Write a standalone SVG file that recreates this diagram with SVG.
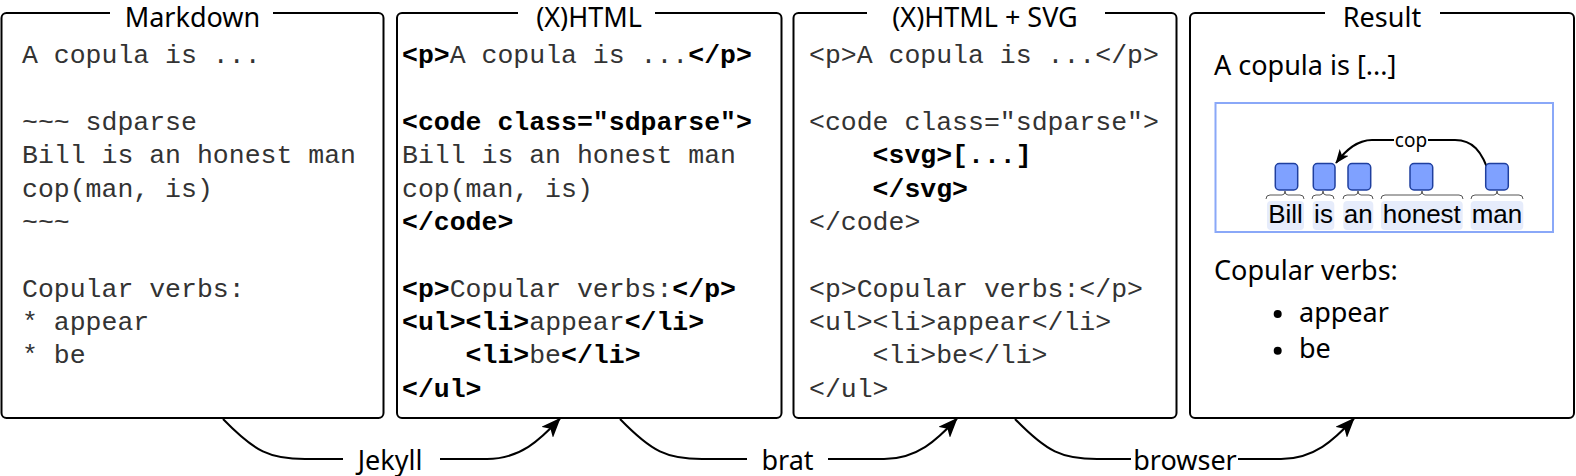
<svg xmlns="http://www.w3.org/2000/svg" width="1576" height="476" viewBox="0 0 1576 476">
<style>
.panel{fill:#fff;stroke:#000;stroke-width:2}
.tbg{fill:#fff}
.title{font-family:"Noto Sans","Open Sans",sans-serif;font-size:27px;fill:#000;text-anchor:middle}
.code{font-family:"Liberation Mono","Courier New",monospace;font-size:26.5px;fill:#333}
.b{font-weight:bold;fill:#000}
.res{font-family:"Noto Sans","Open Sans",sans-serif;font-size:27px;fill:#000}
.tok{fill:#7fa1ff;stroke:#1f3f9e;stroke-width:1.5}
.wbg{fill:#e6ecfb}
.word{font-family:"Liberation Sans",Arial,sans-serif;font-size:26px;fill:#000;text-anchor:middle}
.brace{fill:none;stroke:#555;stroke-width:1}
.conn{fill:none;stroke:#000;stroke-width:2}
.lbl{font-family:"Noto Sans","Open Sans",sans-serif;font-size:27px;fill:#000;text-anchor:middle}
</style>
<defs>
<marker id="arr" viewBox="0 0 10 8" refX="9.5" refY="4" markerWidth="10" markerHeight="8" markerUnits="strokeWidth" orient="auto">
<path d="M0,0 L10,4 L0,8 L2.5,4 z" fill="#000"/>
</marker>
<marker id="arr2" viewBox="0 0 10 8" refX="9.5" refY="4" markerWidth="7" markerHeight="5.6" markerUnits="strokeWidth" orient="auto">
<path d="M0,0 L10,4 L0,8 L2.5,4 z" fill="#000"/>
</marker>
</defs>

<g id="markdown">
<rect class="panel" x="1.5" y="13" width="382" height="405" rx="5"/>
<rect class="tbg" x="110" y="2" width="163" height="22"/>
<text class="title" x="192.5" y="27">Markdown</text>
<text class="code" x="22" y="63.3">A copula is ...</text>
<text class="code" x="22" y="130">~~~ sdparse</text>
<text class="code" x="22" y="163.3">Bill is an honest man</text>
<text class="code" x="22" y="196.6">cop(man, is)</text>
<text class="code" x="22" y="230">~~~</text>
<text class="code" x="22" y="296.6">Copular verbs:</text>
<text class="code" x="22" y="330">* appear</text>
<text class="code" x="22" y="363.3">* be</text>
</g>

<g id="xhtml">
<rect class="panel" x="397" y="13" width="384.5" height="405" rx="5"/>
<rect class="tbg" x="518" y="2" width="137" height="22"/>
<text class="title" x="589" y="27">(X)HTML</text>
<text class="code" x="402" y="63.3"><tspan class="b">&lt;p&gt;</tspan>A copula is ...<tspan class="b">&lt;/p&gt;</tspan></text>
<text class="code b" x="402" y="130">&lt;code class="sdparse"&gt;</text>
<text class="code" x="402" y="163.3">Bill is an honest man</text>
<text class="code" x="402" y="196.6">cop(man, is)</text>
<text class="code b" x="402" y="230">&lt;/code&gt;</text>
<text class="code" x="402" y="296.6"><tspan class="b">&lt;p&gt;</tspan>Copular verbs:<tspan class="b">&lt;/p&gt;</tspan></text>
<text class="code" x="402" y="330"><tspan class="b">&lt;ul&gt;&lt;li&gt;</tspan>appear<tspan class="b">&lt;/li&gt;</tspan></text>
<text class="code" x="465.6" y="363.3"><tspan class="b">&lt;li&gt;</tspan>be<tspan class="b">&lt;/li&gt;</tspan></text>
<text class="code b" x="402" y="396.6">&lt;/ul&gt;</text>
</g>

<g id="xhtml-svg">
<rect class="panel" x="793.5" y="13" width="383" height="405" rx="5"/>
<rect class="tbg" x="867" y="2" width="238" height="22"/>
<text class="title" x="985" y="27">(X)HTML + SVG</text>
<text class="code" x="809" y="63.3">&lt;p&gt;A copula is ...&lt;/p&gt;</text>
<text class="code" x="809" y="130">&lt;code class="sdparse"&gt;</text>
<text class="code b" x="872.6" y="163.3">&lt;svg&gt;[...]</text>
<text class="code b" x="872.6" y="196.6">&lt;/svg&gt;</text>
<text class="code" x="809" y="230">&lt;/code&gt;</text>
<text class="code" x="809" y="296.6">&lt;p&gt;Copular verbs:&lt;/p&gt;</text>
<text class="code" x="809" y="330">&lt;ul&gt;&lt;li&gt;appear&lt;/li&gt;</text>
<text class="code" x="872.6" y="363.3">&lt;li&gt;be&lt;/li&gt;</text>
<text class="code" x="809" y="396.6">&lt;/ul&gt;</text>
</g>

<g id="result">
<rect class="panel" x="1190" y="13" width="384" height="405" rx="5"/>
<rect class="tbg" x="1325" y="2" width="115" height="22"/>
<text class="title" x="1382" y="27">Result</text>
<text class="res" x="1214" y="75">A copula is [...]</text>
<rect x="1215.5" y="103" width="337.5" height="129" fill="none" stroke="#8aa8f8" stroke-width="2"/>
<rect class="wbg" x="1267" y="201" width="37" height="29" rx="4"/>
<rect class="wbg" x="1312.7" y="201" width="21.6" height="29" rx="4"/>
<rect class="wbg" x="1343.3" y="201" width="30" height="29" rx="4"/>
<rect class="wbg" x="1381" y="201" width="81.7" height="29" rx="4"/>
<rect class="wbg" x="1470.7" y="201" width="52.6" height="29" rx="4"/>
<path class="brace" d="M1266,199 Q1266,195 1270,195 L1282,195 Q1285,195 1285,191 Q1285,195 1288,195 L1300,195 Q1304,195 1304,199"/>
<path class="brace" d="M1312,199 Q1312,195 1316,195 L1320,195 Q1323,195 1323,191 Q1323,195 1326,195 L1330,195 Q1334,195 1334,199"/>
<path class="brace" d="M1343,199 Q1343,195 1347,195 L1355,195 Q1358,195 1358,191 Q1358,195 1361,195 L1369,195 Q1373,195 1373,199"/>
<path class="brace" d="M1381,199 Q1381,195 1385,195 L1419,195 Q1422,195 1422,191 Q1422,195 1425,195 L1459,195 Q1463,195 1463,199"/>
<path class="brace" d="M1471,199 Q1471,195 1475,195 L1494,195 Q1497,195 1497,191 Q1497,195 1500,195 L1519,195 Q1523,195 1523,199"/>
<path class="conn" d="M1490,176 C1482,150 1472,140 1455,140 L1372,140 C1357,140 1346,150 1336,163" marker-end="url(#arr2)"/>
<rect x="1394" y="128" width="34" height="22" fill="#fff"/>
<text x="1411" y="147" font-family="Noto Sans, Open Sans, sans-serif" font-size="19" text-anchor="middle" fill="#000">cop</text>
<rect class="tok" x="1275.3" y="163.5" width="22.4" height="26.5" rx="4"/>
<rect class="tok" x="1313.3" y="163.5" width="21.7" height="26.5" rx="4"/>
<rect class="tok" x="1348" y="163.5" width="22.7" height="26.5" rx="4"/>
<rect class="tok" x="1410" y="163.5" width="22.7" height="26.5" rx="4"/>
<rect class="tok" x="1485.7" y="163.5" width="22.6" height="26.5" rx="4"/>
<text class="word" x="1285.5" y="223.3">Bill</text>
<text class="word" x="1323.5" y="223.3">is</text>
<text class="word" x="1358.3" y="223.3">an</text>
<text class="word" x="1421.8" y="223.3">honest</text>
<text class="word" x="1497" y="223.3">man</text>
<text class="res" x="1214" y="280">Copular verbs:</text>
<circle cx="1277.7" cy="314" r="4" fill="#000"/>
<circle cx="1277.7" cy="350.7" r="4" fill="#000"/>
<text class="res" x="1299" y="321.7">appear</text>
<text class="res" x="1299" y="358.3">be</text>
</g>

<g id="connectors">
<path class="conn" d="M223,419 C255,452 270,459 305,459 L343,459"/>
<path class="conn" d="M440,459 L487,459 C520,459 540,440 560,418.5" marker-end="url(#arr)"/>
<text class="lbl" x="390" y="470">Jekyll</text>
<path class="conn" d="M620,419 C652,452 667,459 702,459 L747,459"/>
<path class="conn" d="M828,459 L884,459 C917,459 937,440 957,418.5" marker-end="url(#arr)"/>
<text class="lbl" x="787.5" y="470">brat</text>
<path class="conn" d="M1015,419 C1047,452 1062,459 1097,459 L1131,459"/>
<path class="conn" d="M1238,459 L1281,459 C1314,459 1334,440 1354,418.5" marker-end="url(#arr)"/>
<text class="lbl" x="1185" y="470">browser</text>
</g>
</svg>
